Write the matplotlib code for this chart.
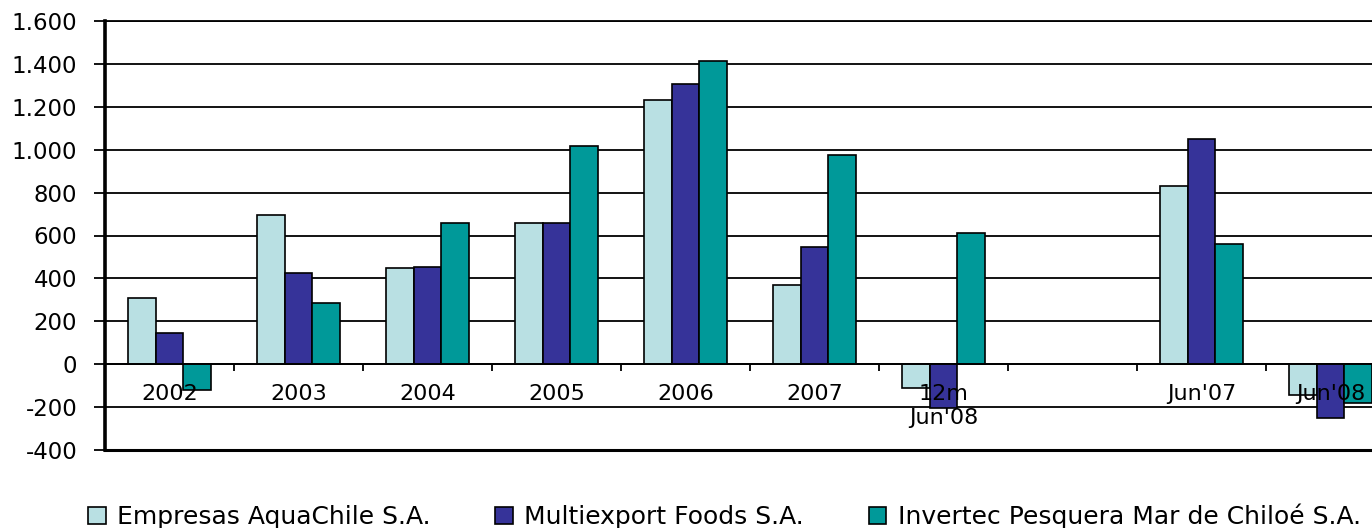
import numpy as np
import matplotlib
matplotlib.use('Agg')
import matplotlib.pyplot as plt

categories = ["2002", "2003", "2004", "2005", "2006", "2007", "12m\nJun'08", "", "Jun'07", "Jun'08"]
aquachile = [310, 695, 448, 657, 1231, 368, -112, np.nan, 830, -145]
multiexport = [145, 424, 452, 657, 1305, 545, -205, np.nan, 1049, -252]
invertec = [-120, 284, 657, 1016, 1413, 974, 611, np.nan, 559, -182]
series_names = ["Empresas AquaChile S.A.", "Multiexport Foods S.A.", "Invertec Pesquera Mar de Chiloé S.A."]
colors = ["#B9E0E3", "#363399", "#009999"]
yticks = list(range(-400, 1601, 200))

plt.rcParams['font.family'] = ['DejaVu Sans']

fig = plt.figure(figsize=(13.72, 5.28), dpi=100)
ax = fig.add_axes([105 / 1372, 1 - 450 / 528, 1290 / 1372, 429 / 528])

x = np.arange(len(categories))
w = 0.217
for i, (vals, name, c) in enumerate(zip([aquachile, multiexport, invertec], series_names, colors)):
    ax.bar(x + (i - 1) * w, vals, width=w, color=c, edgecolor="black", linewidth=1.2,
           label=name, zorder=3)

ax.set_xlim(-0.5, len(categories) - 0.5)
ax.set_ylim(-400, 1600)
ax.set_yticks(yticks)
ax.set_yticklabels([f"{v:,}".replace(",", ".") for v in yticks], fontsize=16.5)
ax.yaxis.grid(True, color="black", linewidth=1.3, zorder=0)
ax.set_axisbelow(True)
ax.axhline(-400, color="black", linewidth=2.2, clip_on=False, zorder=4)

# x axis sits on the zero line, with ticks at category boundaries
ax.spines['bottom'].set_position(('data', 0))
ax.spines['bottom'].set_linewidth(1.3)
ax.spines['bottom'].set_zorder(4)
ax.spines['top'].set_linewidth(1.3)
ax.spines['right'].set_visible(False)
ax.spines['left'].set_linewidth(2.6)
ax.set_xticks(x[:-1] + 0.5)
ax.set_xticklabels([])
ax.tick_params(axis='x', direction='out', length=5, width=1.3, color="black")
ax.tick_params(axis='y', direction='out', length=8, width=1.3, color="black", pad=12)

for xi, lab in zip(x, categories):
    ax.text(xi, -90, lab, ha="center", va="top", fontsize=16, linespacing=1.3, zorder=5)

fig.legend(loc="center", bbox_to_anchor=(0.528, 0.022), ncol=3, frameon=False, fontsize=18,
           handlelength=0.7, handleheight=0.7, handletextpad=0.45, columnspacing=2.6)

fig.savefig("out.png", dpi=100)
